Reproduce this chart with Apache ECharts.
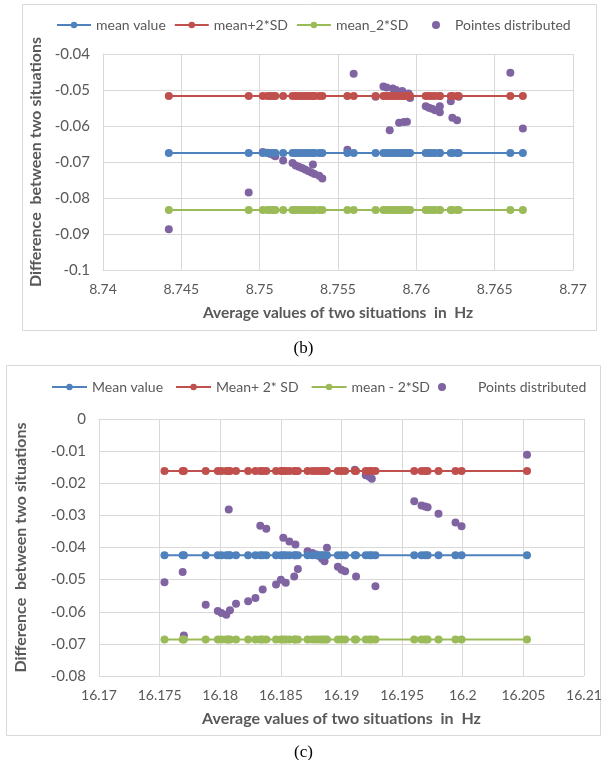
<!DOCTYPE html>
<html>
<head>
<meta charset="utf-8">
<script src="https://cdn.jsdelivr.net/npm/echarts@6/dist/echarts.min.js"></script>
<style>
  html, body { margin: 0; padding: 0; background: #fff; }
  #main { width: 607px; height: 760px; }
</style>
</head>
<body>
<div id="main"></div>
<script>
// (b) 8.75 Hz
var xB = [8.7442, 8.7493, 8.7502, 8.7505, 8.7507, 8.7509, 8.7510, 8.7515, 8.7521, 8.7523,
  8.7525, 8.7527, 8.7529, 8.7531, 8.7533, 8.7534, 8.7535, 8.7538, 8.7540, 8.7556,
  8.7560, 8.7574, 8.7579, 8.7581, 8.7583, 8.7585, 8.7587, 8.7589, 8.7591, 8.7592,
  8.7594, 8.7595, 8.7596, 8.7606, 8.7608, 8.7610, 8.7612, 8.7615, 8.7615, 8.7622,
  8.7623, 8.7626, 8.7627, 8.7660, 8.7668];
var diffB = [-0.0887, -0.0785, -0.0672, -0.0674, -0.0678, -0.0681, -0.0684, -0.0696, -0.0703, -0.0710,
  -0.0713, -0.0717, -0.0721, -0.0725, -0.0729, -0.0707, -0.0733, -0.0738, -0.0746, -0.0666,
  -0.0455, -0.0519, -0.0490, -0.0493, -0.0612, -0.0496, -0.0500, -0.0591, -0.0503, -0.0589,
  -0.0588, -0.0510, -0.0522, -0.0545, -0.0549, -0.0552, -0.0556, -0.0545, -0.0562, -0.0531,
  -0.0577, -0.0584, -0.0519, -0.0452, -0.0607];
var meanB = -0.0675, upperB = -0.0517, lowerB = -0.0833;
var namesB = ['mean value', 'mean+2*SD', 'mean_2*SD', 'Pointes distributed'];

// (c) 16.19 Hz
var xC = [16.1754, 16.1769, 16.1770, 16.1788, 16.1798, 16.1801, 16.1805, 16.1807, 16.1808, 16.1813,
  16.1823, 16.1829, 16.1833, 16.1835, 16.1838, 16.1846, 16.1850, 16.1852, 16.1854, 16.1857,
  16.1861, 16.1862, 16.1864, 16.1872, 16.1876, 16.1879, 16.1882, 16.1884, 16.1886, 16.1888,
  16.1897, 16.1900, 16.1903, 16.1911, 16.1912, 16.1920, 16.1923, 16.1925, 16.1928, 16.1960,
  16.1966, 16.1969, 16.1971, 16.1980, 16.1994, 16.1999, 16.2053];
var diffC = [-0.0508, -0.0476, -0.0674, -0.0578, -0.0598, -0.0604, -0.0609, -0.0282, -0.0595, -0.0575,
  -0.0567, -0.0557, -0.0332, -0.0531, -0.0342, -0.0515, -0.0500, -0.0370, -0.0510, -0.0381,
  -0.0490, -0.0391, -0.0467, -0.0412, -0.0417, -0.0422, -0.0427, -0.0435, -0.0443, -0.0401,
  -0.0460, -0.0469, -0.0474, -0.0158, -0.0490, -0.0175, -0.0180, -0.0186, -0.0521, -0.0256,
  -0.0269, -0.0272, -0.0275, -0.0295, -0.0322, -0.0334, -0.0111];
var meanC = -0.0424, upperC = -0.0162, lowerC = -0.0686;
var namesC = ['Mean value', 'Mean+ 2* SD', 'mean - 2*SD', 'Points distributed'];

var colors = ['#4F81BD', '#C0504D', '#9BBB59', '#8064A2'];
var font = 'Lato, "Open Sans", sans-serif';
var gridGray = '#D9D9D9';
var textGray = '#595959';

function fmt(v) { return String(+v.toFixed(4)); }

function flat(xs, y) {
  return xs.map(function (x) { return [x, y]; });
}

function lineSeries(name, xs, y, color, idx) {
  return {
    name: name,
    type: 'line',
    xAxisIndex: idx,
    yAxisIndex: idx,
    data: flat(xs, y),
    symbol: 'circle',
    symbolSize: 8,
    color: color,
    lineStyle: { width: 2, color: color },
    itemStyle: { color: color },
    animation: false
  };
}

function pointSeries(name, xs, ys, idx) {
  return {
    name: name,
    type: 'scatter',
    xAxisIndex: idx,
    yAxisIndex: idx,
    data: xs.map(function (x, i) { return [x, ys[i]]; }),
    symbolSize: 8,
    itemStyle: { color: colors[3], opacity: 1 },
    animation: false
  };
}

function xAxis(idx, min, max, nameSize, gap) {
  return {
    type: 'value', gridIndex: idx, min: min, max: max, interval: 0.005,
    name: 'Average values of two situations  in  Hz',
    nameLocation: 'middle', nameGap: gap,
    nameTextStyle: { fontFamily: font, fontSize: nameSize, fontWeight: 'bold', color: textGray },
    axisLine: { show: true, lineStyle: { color: gridGray } },
    axisTick: { show: false },
    axisLabel: { formatter: fmt, fontFamily: font, fontSize: 14, color: textGray, margin: 12 },
    splitLine: { show: true, lineStyle: { color: gridGray } }
  };
}

function yAxis(idx, min, max, gap) {
  return {
    type: 'value', gridIndex: idx, min: min, max: max, interval: 0.01,
    name: 'Difference  between two situations',
    nameLocation: 'middle', nameGap: gap, nameRotate: 90,
    nameTextStyle: { fontFamily: font, fontSize: 16, fontWeight: 'bold', color: textGray },
    axisLine: { show: true, lineStyle: { color: gridGray } },
    axisTick: { show: false },
    axisLabel: { formatter: fmt, fontFamily: font, fontSize: 15, color: textGray, margin: 13 },
    splitLine: { show: true, lineStyle: { color: gridGray } }
  };
}

var legendText = { fontFamily: font, fontSize: 14, color: textGray };

var chart = echarts.init(document.getElementById('main'));
chart.setOption({
  animation: false,
  backgroundColor: '#fff',
  title: [
    { text: '(b)', left: 'center', top: 335, textStyle: { fontFamily: '"Liberation Serif", serif', fontSize: 17, fontWeight: 'normal', color: '#000' } },
    { text: '(c)', left: 'center', top: 739, textStyle: { fontFamily: '"Liberation Serif", serif', fontSize: 17, fontWeight: 'normal', color: '#000' } }
  ],
  graphic: [
    { type: 'rect', shape: { x: 22.5, y: 4.5, width: 574, height: 326 }, style: { fill: null, stroke: gridGray, lineWidth: 1 } },
    { type: 'rect', shape: { x: 6.5, y: 365.5, width: 594, height: 370 }, style: { fill: null, stroke: gridGray, lineWidth: 1 } }
  ],
  legend: [
    { data: namesB.slice(0, 3), left: 51, top: 13, itemWidth: 34, itemHeight: 8, itemGap: 8, textStyle: legendText },
    { data: namesB.slice(3), left: 427, top: 13, itemWidth: 8, itemHeight: 8,
      textStyle: { fontFamily: font, fontSize: 14, color: textGray, padding: [0, 0, 0, 10] } },
    { data: namesC.slice(0, 3), left: 46, top: 375, itemWidth: 35, itemHeight: 8, itemGap: 12, textStyle: legendText },
    { data: namesC.slice(3), left: 433, top: 375, itemWidth: 8, itemHeight: 8,
      textStyle: { fontFamily: font, fontSize: 14, color: textGray, padding: [0, 0, 0, 27] } }
  ],
  grid: [
    { left: 103, top: 54, width: 470, height: 216 },
    { left: 99, top: 419, width: 485, height: 257 }
  ],
  xAxis: [xAxis(0, 8.74, 8.77, 15.5, 35), xAxis(1, 16.17, 16.21, 16, 35)],
  yAxis: [yAxis(0, -0.1, -0.04, 55), yAxis(1, -0.08, 0, 70)],
  series: [
    lineSeries(namesB[0], xB, meanB, colors[0], 0),
    lineSeries(namesB[1], xB, upperB, colors[1], 0),
    lineSeries(namesB[2], xB, lowerB, colors[2], 0),
    pointSeries(namesB[3], xB, diffB, 0),
    lineSeries(namesC[0], xC, meanC, colors[0], 1),
    lineSeries(namesC[1], xC, upperC, colors[1], 1),
    lineSeries(namesC[2], xC, lowerC, colors[2], 1),
    pointSeries(namesC[3], xC, diffC, 1)
  ]
});
</script>
</body>
</html>
